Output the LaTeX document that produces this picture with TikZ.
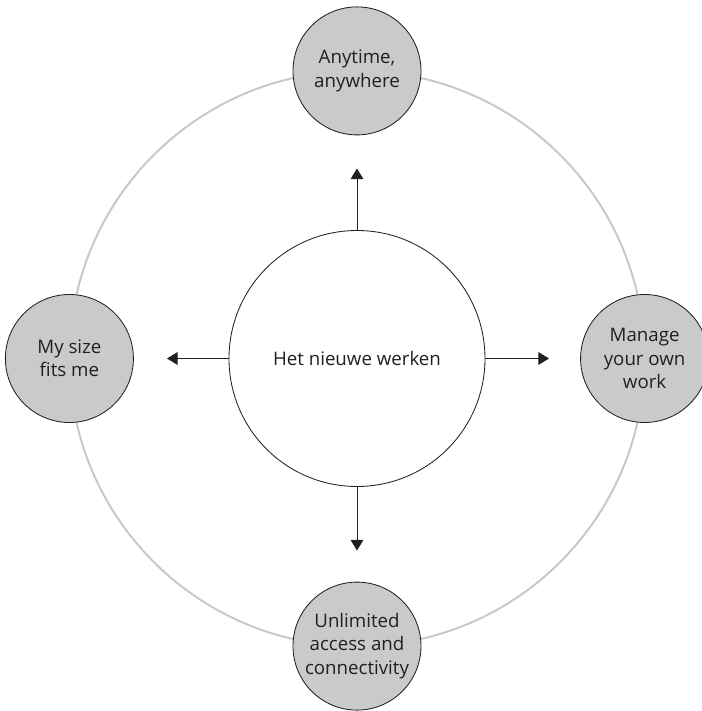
\documentclass[tikz,border=0pt]{standalone}
\usepackage{fontspec}
\setmainfont{Open Sans}
\usepackage{tikz}
\usetikzlibrary{arrows.meta,positioning,shapes}
\definecolor{ringgray}{HTML}{C8C8C8}
\definecolor{fillgray}{HTML}{C9CACC}
\definecolor{inkblack}{HTML}{231F20}
\tikzset{%
	hub/.style      = {draw=inkblack, circle, line width=0.6pt, fill=white, minimum size=6.4cm, inner sep=0pt, text centered},
	pillar/.style   = {draw=inkblack, circle, line width=0.6pt, fill=fillgray, minimum size=3.2cm, inner sep=0pt, align=center},
	ring/.style     = {draw=ringgray, line width=1.4pt},
	arrow/.style    = {draw=inkblack, line width=0.6pt, -{Triangle[length=7.5pt,width=9pt]}},
}
\begin{document}
\begin{tikzpicture}[font=\fontsize{13.3}{16.5}\selectfont, text=inkblack]
			\useasboundingbox (-8.925,-8.8125) rectangle (8.625,8.9625);
			\draw[ring] (0,0) circle (7.19);
			
			\node[hub] (werken) at (0,0) {Het nieuwe werken};
			\node[pillar] (anytime) at (0,7.19) {Anytime,\\anywhere};
			\node[pillar] (manage) at (7.19,0) {Manage\\your own\\work};
			\node[pillar] (access) at (0,-7.19) {Unlimited\\access and\\connectivity};
			\node[pillar] (size) at (-7.19,0) {My size\\fits me};
			
			\coordinate (tipN) at (0,4.75);
			\coordinate (tipE) at (4.8,0);
			\coordinate (tipS) at (0,-4.8);
			\coordinate (tipW) at (-4.75,0);
			\draw[arrow] (werken.north) -- (tipN);
			\draw[arrow] (werken.east) -- (tipE);
			\draw[arrow] (werken.south) -- (tipS);
			\draw[arrow] (werken.west) -- (tipW);
			\end{tikzpicture}
\end{document}
